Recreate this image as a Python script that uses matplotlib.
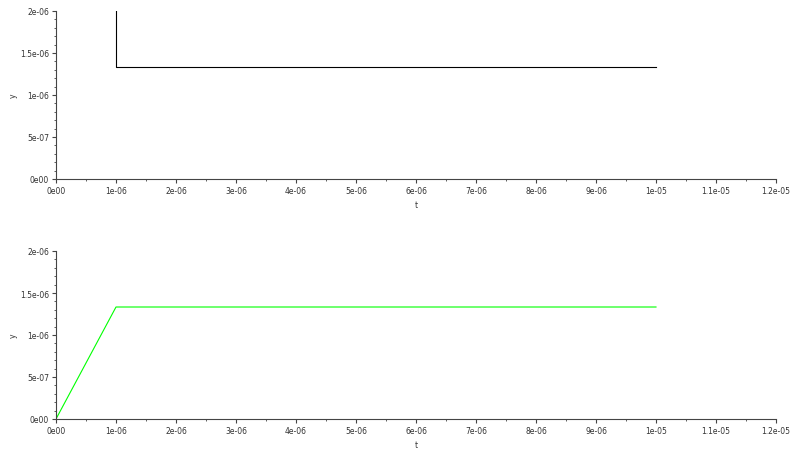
import matplotlib
matplotlib.use("Agg")
import matplotlib.pyplot as plt
from matplotlib.ticker import FixedLocator, FixedFormatter, MultipleLocator

# Signal values
t_top = [1e-6, 1e-6, 1e-5]
y_top = [2e-6, 1.3333e-6, 1.3333e-6]
t_bottom = [0.0, 1e-6, 1e-5]
y_bottom = [0.0, 1.3333e-6, 1.3333e-6]

x_ticks = [i * 1e-6 for i in range(13)]
x_labels = ["0e00", "1e-06", "2e-06", "3e-06", "4e-06", "5e-06", "6e-06",
            "7e-06", "8e-06", "9e-06", "1e-05", "1.1e-05", "1.2e-05"]
y_ticks = [0.0, 5e-7, 1e-6, 1.5e-6, 2e-6]
y_labels = ["0e00", "5e-07", "1e-06", "1.5e-06", "2e-06"]

fig = plt.figure(figsize=(7.9, 4.52), dpi=100)
W, H = 790, 452


def make_axes(top_px, bottom_px):
    left = 56 / W
    width = 720 / W
    bottom = 1 - bottom_px / H
    height = (bottom_px - top_px) / H
    return fig.add_axes([left, bottom, width, height])


def style(ax):
    ax.set_xlim(0, 1.2e-5)
    ax.set_ylim(0, 2e-6)
    for s in ("top", "right"):
        ax.spines[s].set_visible(False)
    for s in ("left", "bottom"):
        ax.spines[s].set_color("#444444")
        ax.spines[s].set_linewidth(0.8)
    ax.xaxis.set_major_locator(FixedLocator(x_ticks))
    ax.xaxis.set_major_formatter(FixedFormatter(x_labels))
    ax.yaxis.set_major_locator(FixedLocator(y_ticks))
    ax.yaxis.set_major_formatter(FixedFormatter(y_labels))
    ax.xaxis.set_minor_locator(MultipleLocator(5e-7))
    ax.yaxis.set_minor_locator(MultipleLocator(1e-7))
    ax.tick_params(which="major", direction="out", length=3, width=0.8,
                   color="#444444", labelsize=5.5, labelcolor="#333333", pad=2)
    ax.tick_params(which="minor", direction="out", length=1.5, width=0.6,
                   color="#444444")
    ax.set_xlabel("t", fontsize=5.5, color="#333333", labelpad=4)
    ax.set_ylabel("y", fontsize=5.5, color="#333333", labelpad=1.5)


ax1 = make_axes(12, 180)
style(ax1)
ax1.plot(t_top, y_top, color="black", linewidth=0.8)

ax2 = make_axes(252, 420)
style(ax2)
ax2.plot(t_bottom, y_bottom, color="#00ff00", linewidth=0.8)

fig.savefig("out.png", dpi=100)
